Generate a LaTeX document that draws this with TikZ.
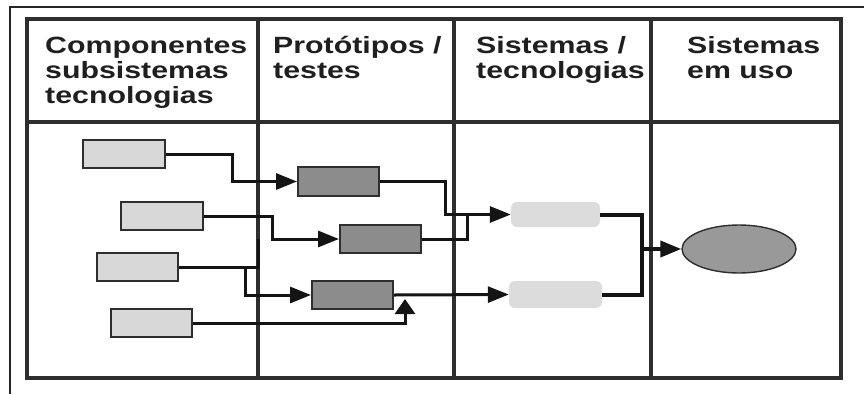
\documentclass[tikz,border=0pt]{standalone}
\usepackage{fontspec}
\setmainfont{Liberation Sans}
\usetikzlibrary{arrows.meta,shapes.geometric}

\definecolor{frameline}{HTML}{2E2E2E}
\definecolor{lightfill}{HTML}{D8D8D8}
\definecolor{darkfill}{HTML}{8C8C8C}
\definecolor{softfill}{HTML}{DCDCDC}
\definecolor{ovalfill}{HTML}{999999}

\newcommand{\hdrtext}[1]{\scalebox{1.29}[1]{\fontsize{23.5}{25}\selectfont\bfseries
  \begin{tabular}[t]{@{}l@{}}#1\end{tabular}}}

\tikzset{
  hdr/.style={anchor=base west, inner sep=0pt, text=black!88},
  compbox/.style={draw=frameline, line width=2pt, fill=lightfill,
    minimum width=81pt, minimum height=28pt, inner sep=0pt},
  protobox/.style={draw=frameline, line width=2pt, fill=darkfill,
    minimum width=81pt, minimum height=28pt, inner sep=0pt},
  sysbox/.style={fill=softfill, rounded corners=6pt,
    minimum width=90pt, minimum height=26pt, inner sep=0pt},
  useoval/.style={ellipse, draw=frameline, line width=1.4pt, fill=ovalfill,
    minimum width=114pt, minimum height=48pt, inner sep=0pt},
  conn/.style={draw=black!92, line width=3pt},
  thickconn/.style={draw=black!92, line width=4pt},
  tip/.style={-{Triangle[length=21pt,width=16pt]}},
  uptip/.style={-{Triangle[length=15pt,width=20pt]}},
  grid/.style={draw=frameline, line width=3.2pt},
}

\begin{document}
\begin{tikzpicture}[x=1pt, y=-1pt]
  \useasboundingbox (0,0) rectangle (864,394);

  % outer page frame (top and left edges only)
  \draw[draw=black!85, line width=2pt] (10,394) -- (10,7) -- (864,7);

  % table grid
  \draw[grid] (27,19) rectangle (841,378);
  \draw[grid] (27,122) -- (841,122);
  \draw[grid] (258,19) -- (258,378);
  \draw[grid] (454,19) -- (454,378);
  \draw[grid] (651,19) -- (651,378);

  % column headings
  \node[hdr] (h1) at (45,53)  {\hdrtext{Componentes\\subsistemas\\tecnologias}};
  \node[hdr] (h2) at (273,53) {\hdrtext{Protótipos /\\testes}};
  \node[hdr] (h3) at (476,53) {\hdrtext{Sistemas /\\tecnologias}};
  \node[hdr] (h4) at (687,53) {\hdrtext{Sistemas\\em uso}};

  % components
  \node[compbox, minimum width=82pt] (A1) at (124,154)   {};
  \node[compbox, minimum width=82pt] (A2) at (162,216)   {};
  \node[compbox] (A3) at (137.5,267) {};
  \node[compbox] (A4) at (151.5,323) {};

  % prototypes
  \node[protobox, minimum height=29pt] (B1) at (338.5,181.5) {};
  \node[protobox] (B2) at (380.5,239) {};
  \node[protobox] (B3) at (352.5,295) {};

  % systems
  \node[sysbox, minimum width=89pt, minimum height=25pt] (C1) at (555.5,214.5) {};
  \node[sysbox, minimum width=93pt, minimum height=27pt] (C2) at (555.5,294.5) {};

  % system in use
  \node[useoval] (E) at (739,249) {};

  % components -> prototypes
  \draw[conn, tip] (A1.east) -- (232,154) |- (B1.west);
  \draw[conn, tip] (A2.east) -- (272,216) |- (B2.west);
  \coordinate (split) at (245,267);
  \draw[conn] (A3.east) -| (258,239);
  \draw[conn, tip] (split) |- (B3.west);
  \draw[conn, uptip] (A4.east) -| (405,299);

  % prototypes -> systems
  \draw[conn, tip] (B1.east) -- (445,181.5) |- (C1.west);
  \draw[conn] (B2.east) -| (467,214.5);
  \draw[conn, tip] (B3.east) -- (C2.west);

  % systems -> system in use
  \draw[thickconn, tip] (C1.east) -- (642,214.5) |- (E.west);
  \draw[thickconn] (C2.east) -| (642,249);
\end{tikzpicture}
\end{document}
